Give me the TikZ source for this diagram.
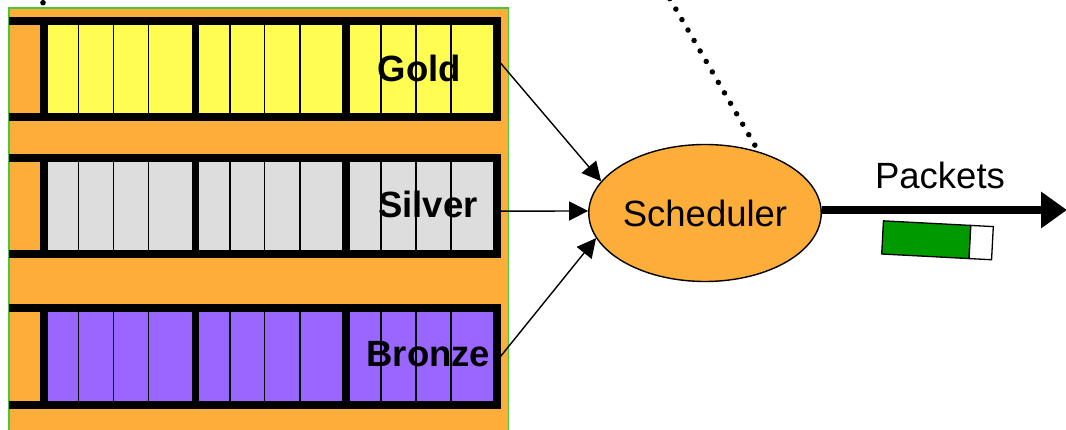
\documentclass[tikz,border=0pt]{standalone}
\usepackage{fontspec}
\setmainfont{Liberation Sans}
\usetikzlibrary{shapes.geometric,arrows.meta}

\definecolor{bgorange}{RGB}{252,173,58}
\definecolor{frameline}{RGB}{70,200,60}
\definecolor{goldfill}{RGB}{255,252,82}
\definecolor{silverfill}{RGB}{221,221,221}
\definecolor{bronzefill}{RGB}{153,102,255}
\definecolor{pktgreen}{RGB}{0,153,0}

% bars of one queue: #1 = outer top edge, #2 = outer bottom edge
\newcommand\qbars[2]{%
  \fill (9,#1) rectangle (44,#1+8);
  \fill (9,#2-8) rectangle (44,#2);
  \foreach \x in {78.7,113.8,148.5,230,264.7,300,381,416,451}
    \draw[cellline] (\x,#1+4) -- (\x,#2-4);
  \foreach \x in {195.6,346}
    \draw[segbar] (\x,#1+4) -- (\x,#2-4);
}

\begin{document}
\begin{tikzpicture}[x=1pt,y=-1pt,
  qbox/.style={rectangle, draw=black, line width=8pt, minimum width=452.5pt,
    minimum height=96pt, inner sep=0pt},
  cellline/.style={line width=1.3pt},
  segbar/.style={line width=7.5pt},
  qlabel/.style={anchor=base, inner sep=0pt, font=\bfseries\fontsize{36.5}{40}\selectfont},
  plainlabel/.style={anchor=base, inner sep=0pt, font=\fontsize{36.5}{40}\selectfont},
  schedbox/.style={ellipse, draw=black, line width=1.4pt, fill=bgorange,
    minimum width=232pt, minimum height=137pt, inner sep=0pt,
    font=\fontsize{36.5}{40}\selectfont},
  feed/.style={line width=1.4pt, -{Triangle[length=19pt,width=19pt]}},
  outflow/.style={line width=7.5pt, -{Triangle[length=26pt,width=35pt]}},
  dotline/.style={line width=5.5pt, line cap=round, dash pattern=on 0pt off 12.1pt, dash phase=4.8pt},
  pktpart/.style={draw=black, line width=1.3pt}
]
\useasboundingbox (0,0) rectangle (1066,430);
\clip (0,0) rectangle (1066,430);

% buffer area behind the queues
\draw[draw=frameline, line width=1.7pt, fill=bgorange] (9,8) rectangle (508.5,445);
\fill (43,2.7) circle (2.8);

% the three class queues
\node[qbox, fill=goldfill] (gold) at (270.25,69) {};
\qbars{17}{121}
\node[qbox, fill=silverfill] (silver) at (270.25,206.2) {};
\qbars{154.2}{258.2}
\node[qbox, fill=bronzefill] (bronze) at (270.25,356.5) {};
\qbars{304.5}{408.5}

\node[qlabel] (goldlbl) at (419.4,81.7) {Gold};
\node[qlabel] (silverlbl) at (427.9,217.3) {Silver};
\node[qlabel] (bronzelbl) at (428.3,366.7) {Bronze};

% scheduler and its links
\coordinate (dottop) at (663.6,-12);
\coordinate (pktend) at (1067,210);
\node[schedbox] (sched) at (705,213) {Scheduler};
\draw[dotline] (sched.49) -- (dottop);

\draw[feed] ([yshift=6pt]gold.east) -- (sched.163);
\draw[feed] ([yshift=-5pt]silver.east) -- (sched.179);
\draw[feed] (bronze.east) -- (sched.193);

\draw[outflow] ([yshift=3pt]sched.east) -- (pktend);
\node[plainlabel] (pktlbl) at (940,188.3) {Packets};

% a packet on the output link
\begin{scope}[shift={(937.5,240.3)}, rotate=-3]
  \filldraw[pktpart, fill=pktgreen] (-55,-16.6) rectangle (32.5,16.6);
  \filldraw[pktpart, fill=white] (32.5,-16.6) rectangle (55,16.6);
\end{scope}
\end{tikzpicture}
\end{document}
